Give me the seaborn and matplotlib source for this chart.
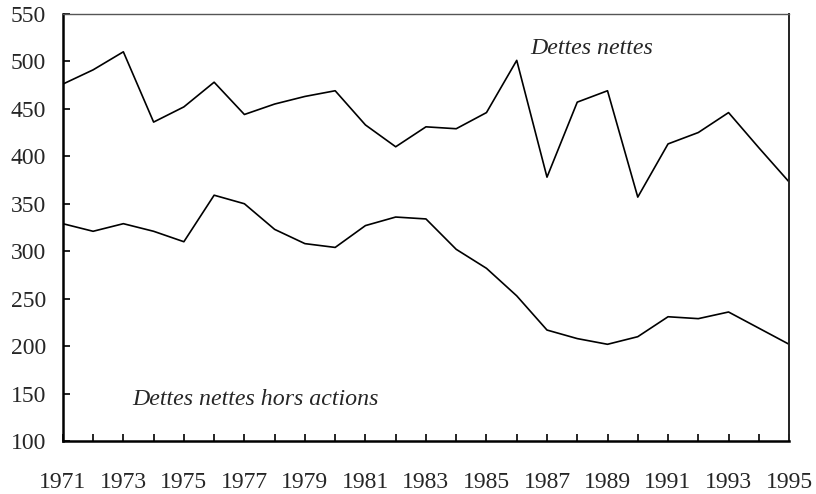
import pandas as pd
import matplotlib.pyplot as plt
import seaborn as sns

# Data
years = list(range(1971, 1996))
dettes_nettes = [476, 491, 510, 436, 452, 478, 444, 455, 463, 469,
                 433, 410, 431, 429, 446, 501, 378, 457, 469, 357,
                 413, 425, 446, 409, 373]
dettes_hors_actions = [329, 321, 329, 321, 310, 359, 350, 323, 308, 304,
                       327, 336, 334, 302, 282, 253, 217, 208, 202, 210,
                       231, 229, 236, 219, 202]
label_nettes = 'Dettes nettes'
label_hors = 'Dettes nettes hors actions'

df = pd.DataFrame({'annee': years * 2,
                   'valeur': dettes_nettes + dettes_hors_actions,
                   'serie': [label_nettes] * len(years) + [label_hors] * len(years)})

sns.set_style('white')
plt.rcParams['font.family'] = ['Liberation Serif', 'DejaVu Serif']

fig, ax = plt.subplots(figsize=(8.16, 4.94), dpi=100)
sns.lineplot(data=df, x='annee', y='valeur', units='serie', estimator=None,
             color='black', linewidth=1.2, ax=ax)

ax.set_xlim(1971, 1995)
ax.set_ylim(100, 550)
ax.set_xticks(range(1971, 1996, 2))
ax.set_xticks(range(1972, 1995, 2), minor=True)
ax.set_yticks(range(100, 551, 50))
ax.tick_params(axis='both', which='both', direction='in', length=5, width=1.2,
               color='black', labelsize=17, bottom=True, left=True)
ax.tick_params(axis='x', which='major', pad=22)
ax.tick_params(axis='y', pad=12)
ax.set_xlabel('')
ax.set_ylabel('')

for side in ['left', 'bottom']:
    ax.spines[side].set_color('black')
    ax.spines[side].set_linewidth(1.8)
ax.spines['right'].set_color('#222222')
ax.spines['right'].set_linewidth(1.4)
ax.spines['top'].set_color('#555555')
ax.spines['top'].set_linewidth(1.0)

ax.text(1986.45, 513, label_nettes, fontsize=17.2, style='italic', va='center', ha='left')
ax.text(1973.28, 144, label_hors, fontsize=17.2, style='italic', va='center', ha='left')

plt.subplots_adjust(left=0.077, right=0.967, top=0.972, bottom=0.107)
plt.savefig('out.png', dpi=100)
